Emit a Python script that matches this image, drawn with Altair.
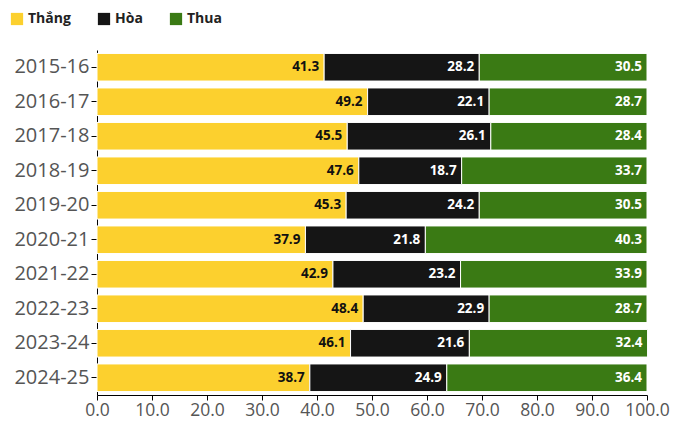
import altair as alt
import pandas as pd

seasons = ["2015-16", "2016-17", "2017-18", "2018-19", "2019-20",
           "2020-21", "2021-22", "2022-23", "2023-24", "2024-25"]
thang = [41.3, 49.2, 45.5, 47.6, 45.3, 37.9, 42.9, 48.4, 46.1, 38.7]
hoa = [28.2, 22.1, 26.1, 18.7, 24.2, 21.8, 23.2, 22.9, 21.6, 24.9]
thua = [30.5, 28.7, 28.4, 33.7, 30.5, 40.3, 33.9, 28.7, 32.4, 36.4]

cats = ["Thắng", "Hòa", "Thua"]
colors = ["#FCD02E", "#151515", "#3A7A14"]
text_colors = ["#111111", "#FFFFFF", "#FFFFFF"]

rows = []
for i, s in enumerate(seasons):
    start = 0.0
    for j, (c, vals) in enumerate(zip(cats, [thang, hoa, thua])):
        v = vals[i]
        rows.append({"season": s, "cat": c, "order": j, "value": v,
                     "start": start, "end": start + v,
                     "label": f"{v:.1f}", "tcolor": text_colors[j]})
        start += v
df = pd.DataFrame(rows)

FONT = "Open Sans"

base = alt.Chart(df)

bars = base.mark_bar(stroke="#FFFFFF", strokeWidth=1).encode(
    y=alt.Y("season:N", sort=seasons, title=None,
            scale=alt.Scale(paddingInner=0.2, paddingOuter=0.1),
            axis=alt.Axis(labelFontSize=20, labelColor="#555555", labelFont=FONT,
                          domainColor="#000000", tickColor="#000000", tickSize=6,
                          labelPadding=2, domainWidth=1)),
    x=alt.X("start:Q", title=None,
            scale=alt.Scale(domain=[0, 100], nice=False),
            axis=alt.Axis(values=[0, 10, 20, 30, 40, 50, 60, 70, 80, 90, 100],
                          format=".1f", labelFontSize=17.5, labelColor="#555555",
                          labelFont=FONT, grid=False, domainColor="#000000",
                          tickColor="#000000", tickSize=5, labelPadding=1,
                          labelOverlap=False, labelFlush=False)),
    x2="end:Q",
    color=alt.Color("cat:N", sort=cats, title=None,
                    scale=alt.Scale(domain=cats, range=colors),
                    legend=alt.Legend(orient="none", legendX=-87, legendY=-38,
                                      direction="horizontal", symbolType="square",
                                      symbolSize=150, symbolStrokeWidth=0,
                                      labelFontSize=14, labelFontWeight="bold",
                                      labelFont=FONT, labelColor="#222222",
                                      columnPadding=26, symbolOpacity=1)),
)

labels = base.mark_text(align="right", baseline="middle", dx=-5, font=FONT,
                        fontSize=13.5, fontWeight="bold").encode(
    y=alt.Y("season:N", sort=seasons),
    x=alt.X("end:Q"),
    text="label:N",
    color=alt.Color("tcolor:N", scale=None),
)

chart = (bars + labels).properties(
    width=550, height=345,
    padding={"left": 89, "top": 42, "right": 24, "bottom": 30},
    autosize=alt.AutoSizeParams(type="none"),
).configure_view(stroke=None)

chart.save("out.html", embed_options={"renderer": "svg", "actions": False})
